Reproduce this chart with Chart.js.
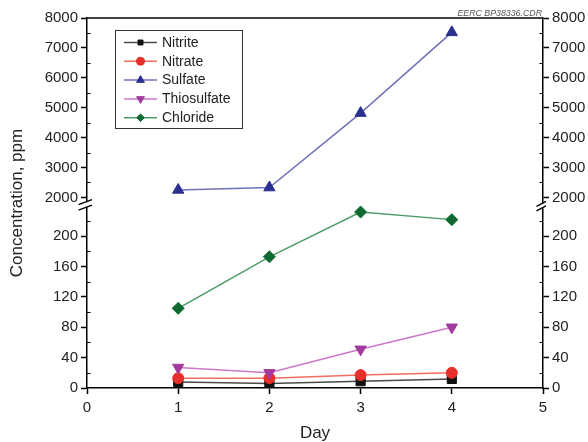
<!DOCTYPE html>
<html>
<head>
<meta charset="utf-8">
<script src="https://cdn.jsdelivr.net/npm/chart.js@4.4.0/dist/chart.umd.min.js"></script>
<style>
  html, body { margin: 0; padding: 0; background: #fff; }
  #wrap { width: 588px; height: 442px; position: relative; }
</style>
</head>
<body>
<div id="wrap"><canvas id="c"></canvas></div>
<script>
// values
const days = [1, 2, 3, 4];
const nitrite = [8, 6, 9, 12];
const nitrate = [13, 13, 17, 20];
const sulfate = [2250, 2330, 4820, 7520];
const thiosulfate = [27, 20, 51, 80];
const chloride = [105, 173, 232, 222];

// axis ticks (broken y axis: low part + high part)
const xTicks = [0, 1, 2, 3, 4, 5];
const lowTicks = [0, 40, 80, 120, 160, 200];
const lowMinor = [20, 60, 100, 140, 180, 220];
const highTicks = [2000, 3000, 4000, 5000, 6000, 7000, 8000];
const highMinor = [2500, 3500, 4500, 5500, 6500, 7500];

Chart.defaults.font.family = '"Liberation Sans", Arial, sans-serif';
Chart.defaults.color = '#222';

const pts = (arr) => arr.map((v, i) => ({ x: days[i], y: v }));

function series(label, data, axis, line, mark, style, r, rot, order) {
  return {
    label, data: pts(data), yAxisID: axis,
    borderColor: line, borderWidth: 1.5,
    pointStyle: style, pointRadius: r, pointRotation: rot || 0,
    pointBackgroundColor: mark, pointBorderColor: mark, pointBorderWidth: 1,
    order, tension: 0,
  };
}

const datasets = [
  series('Nitrite', nitrite, 'yLow', '#4a4a4a', '#111', 'rect', 6.5, 0, 5),
  series('Nitrate', nitrate, 'yLow', '#f26d5f', '#e8302a', 'circle', 5.5, 0, 4),
  series('Sulfate', sulfate, 'yHigh', '#6f72b9', '#2b2f8f', 'triangle', 6.5, 0, 3),
  series('Thiosulfate', thiosulfate, 'yLow', '#cc77c8', '#a23a9d', 'triangle', 6.5, 180, 2),
  series('Chloride', chloride, 'yLow', '#4c9c65', '#0d6a31', 'rectRot', 6, 0, 1),
];
const legendMarker = [3.5, 4, 4.5, 4.5, 3.8];

const tickFont = { size: 15 };
const plainTicks = { font: tickFont, padding: 3, color: '#222', autoSkip: false, callback: (v) => String(v) };

function yAxis(pos, stack, weight, min, max, major, width) {
  return {
    type: 'linear', position: pos, stack, stackWeight: weight, min, max,
    afterBuildTicks: (s) => { s.ticks = major.map((v) => ({ value: v })); },
    afterFit: (s) => { s.width = width; },
    grid: { drawOnChartArea: false, tickLength: 6, tickColor: '#000', tickWidth: 1.5 },
    border: { color: '#000', width: 1.5 },
    ticks: plainTicks,
  };
}

const decor = {
  id: 'decor',
  afterDraw(chart) {
    const { ctx, chartArea: a, scales } = chart;
    const L = a.left, R = a.right;
    ctx.save();
    // top frame line
    ctx.strokeStyle = '#000';
    ctx.lineWidth = 1.5;
    ctx.beginPath(); ctx.moveTo(L, a.top); ctx.lineTo(R, a.top); ctx.stroke();

    // minor ticks, pointing inward
    ctx.lineWidth = 1;
    const minor = (scale, vals) => vals.forEach((v) => {
      const y = Math.round(scale.getPixelForValue(v)) + 0.5;
      ctx.beginPath(); ctx.moveTo(L, y); ctx.lineTo(L + 3.5, y); ctx.stroke();
      ctx.beginPath(); ctx.moveTo(R, y); ctx.lineTo(R - 3.5, y); ctx.stroke();
    });
    minor(scales.yLow, lowMinor);
    minor(scales.yHigh, highMinor);

    // axis break marks
    const b = scales.yHigh.bottom;
    ctx.fillStyle = '#fff';
    ctx.fillRect(L - 2, b - 1.5, 4, 5);
    ctx.fillRect(R - 2, b - 0.5, 4, 5);
    ctx.lineWidth = 1.4;
    ctx.beginPath();
    ctx.moveTo(L - 8.5, b + 1); ctx.lineTo(L + 5, b - 4);
    ctx.moveTo(L - 8.5, b + 6.5); ctx.lineTo(L + 5, b + 1.5);
    ctx.moveTo(R - 6.5, b + 2.7); ctx.lineTo(R + 3, b - 2.3);
    ctx.moveTo(R - 6.5, b + 7.2); ctx.lineTo(R + 3, b + 2.2);
    ctx.stroke();

    // y title
    ctx.fillStyle = '#222';
    ctx.font = '17px "Liberation Sans", Arial, sans-serif';
    ctx.textAlign = 'center';
    ctx.textBaseline = 'middle';
    ctx.translate(17.5, 203);
    ctx.rotate(-Math.PI / 2);
    ctx.fillText('Concentration, ppm', 0, 0);
    ctx.setTransform(1, 0, 0, 1, 0, 0);

    // file tag
    ctx.fillStyle = '#555';
    ctx.font = 'italic 8.8px "Liberation Sans", Arial, sans-serif';
    ctx.textAlign = 'right';
    ctx.textBaseline = 'alphabetic';
    ctx.fillText('EERC BP38336.CDR', R - 1, a.top - 2.5);

    // legend
    ctx.strokeStyle = '#333';
    ctx.lineWidth = 1;
    ctx.strokeRect(115.5, 30.5, 127, 98);
    ctx.font = '14px "Liberation Sans", Arial, sans-serif';
    ctx.textAlign = 'left';
    chart.data.datasets.forEach((ds, i) => {
      const y = 42.5 + i * 18.8;
      ctx.strokeStyle = ds.borderColor;
      ctx.lineWidth = 1.5;
      ctx.beginPath(); ctx.moveTo(124, y); ctx.lineTo(157, y); ctx.stroke();
      ctx.fillStyle = ds.pointBackgroundColor;
      ctx.strokeStyle = ds.pointBorderColor;
      ctx.lineWidth = 1;
      Chart.helpers.drawPoint(ctx, {
        pointStyle: ds.pointStyle, radius: legendMarker[i], rotation: ds.pointRotation, borderWidth: 1,
      }, 140.5, y);
      ctx.fillStyle = '#222';
      ctx.textBaseline = 'middle';
      ctx.fillText(ds.label, 162, y + 0.5);
    });
    ctx.restore();
  },
};

new Chart(document.getElementById('c'), {
  type: 'line',
  data: { datasets },
  options: {
    responsive: true,
    maintainAspectRatio: false,
    animation: false,
    layout: { padding: { top: 18, left: 0, right: 0, bottom: 0 } },
    plugins: { legend: { display: false }, tooltip: { enabled: false } },
    scales: {
      x: {
        type: 'linear', position: 'bottom', min: 0, max: 5,
        afterBuildTicks: (s) => { s.ticks = xTicks.map((v) => ({ value: v })); },
        afterFit: (s) => { s.height = 54; },
        grid: { drawOnChartArea: false, tickLength: 6, tickColor: '#000', tickWidth: 1.5 },
        border: { color: '#000', width: 1.5 },
        ticks: { ...plainTicks, padding: 5, maxRotation: 0 },
        title: { display: true, text: 'Day', color: '#222', font: { size: 17 }, padding: { top: 0, bottom: -2 } },
      },
      yLow: yAxis('left', 'L', 184.3, 0, 243, lowTicks, 87),
      yHigh: yAxis('left', 'L', 185.7, 1790, 8000, highTicks, 87),
      yHighR: yAxis('right', 'R', 185.7, 1790, 8000, highTicks, 45),
      yLowR: yAxis('right', 'R', 184.3, 0, 243, lowTicks, 45),
    },
  },
  plugins: [decor],
});
</script>
</body>
</html>
